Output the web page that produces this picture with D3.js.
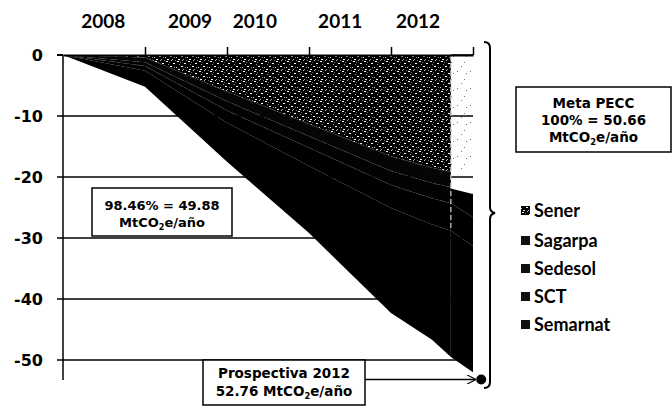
<!DOCTYPE html>
<html><head><meta charset="utf-8">
<script src="https://cdn.jsdelivr.net/npm/d3@7"></script>
<style>body{margin:0;background:#fff}</style>
</head><body><svg id="c" width="672" height="407"></svg>
<script>
// ---- data ----
const years    = [2008, 2009, 2010, 2011, 2012, 2012.5, 2012.73, 2013];
const sener    = [0, 0.4, 6.0, 11.3, 16.6, 18.5, 19.2, 19.2];
const sagarpa  = [0, 0.8, 1.6, 2.0, 2.4, 2.5, 2.5, 3.4];
const sedesol  = [0, 0.6, 1.5, 1.9, 2.3, 2.5, 2.6, 4.0];
const sct      = [0, 0.8, 2.0, 3.0, 3.8, 4.3, 4.5, 4.7];
const semarnat = [0, 2.6, 6.4, 11.0, 17.2, 18.9, 20.7, 20.7];
const seriesNames = ["Sener", "Sagarpa", "Sedesol", "SCT", "Semarnat"];
const yearLabels = ["2008", "2009", "2010", "2011", "2012"];
const yearLabelPos = [2008.49, 2009.55, 2010.34, 2011.38, 2012.33];
const yearTicks = [2009, 2010, 2011, 2012, 2013];
const yTicks = [0, -10, -20, -30, -40, -50];
const cutoffYear = 2012.73;
const prospectiva = {year: 2013.1, value: -53.2};

(function () {
const seriesValues = {Sener: sener, Sagarpa: sagarpa, Sedesol: sedesol, SCT: sct, Semarnat: semarnat};
const rows = years.map((yr, i) => {
  const r = {year: yr};
  seriesNames.forEach(k => r[k] = -seriesValues[k][i]);
  return r;
});

const svg = d3.select("#c");
const x = d3.scaleLinear().domain([2008, 2013]).range([63, 473]);
const y = d3.scaleLinear().domain([0, -50]).range([55, 360]);

// patterns
const defs = svg.append("defs");
const sp = defs.append("pattern").attr("id", "speck").attr("patternUnits", "userSpaceOnUse")
  .attr("width", 11).attr("height", 10);
sp.append("rect").attr("width", 11).attr("height", 10).attr("fill", "#000");
[[1,1,2,1,"#fff"],[6,0,1,1,"#bbb"],[8,3,2,1,"#fff"],[3,4,1,1,"#999"],[5,6,2,1,"#fff"],
 [0,7,1,1,"#ccc"],[9,7,1,1,"#888"],[2,9,2,1,"#eee"],[7,9,1,1,"#aaa"],[10,0,1,1,"#777"],
 [4,2,1,1,"#666"]].forEach(r =>
  sp.append("rect").attr("x", r[0]).attr("y", r[1]).attr("width", r[2]).attr("height", r[3]).attr("fill", r[4]));
const sp2 = defs.append("pattern").attr("id", "sparse").attr("patternUnits", "userSpaceOnUse")
  .attr("width", 13).attr("height", 17);
[[2,3],[9,11],[6,15],[11,5]].forEach(p =>
  sp2.append("rect").attr("x", p[0]).attr("y", p[1]).attr("width", 1).attr("height", 1).attr("fill", "#777"));
defs.append("clipPath").attr("id", "mainClip").append("rect")
  .attr("x", x(2008)).attr("y", 0).attr("width", x(cutoffYear) - x(2008)).attr("height", 407);
defs.append("clipPath").attr("id", "projClip").append("rect")
  .attr("x", x(cutoffYear)).attr("y", 0).attr("width", x(2013) - x(cutoffYear) + 1).attr("height", 407);
defs.append("marker").attr("id", "arr").attr("viewBox", "0 0 10 10").attr("refX", 9).attr("refY", 5)
  .attr("markerWidth", 9).attr("markerHeight", 9).attr("orient", "auto").attr("markerUnits", "userSpaceOnUse")
  .append("path").attr("d", "M0,0L10,5L0,10").attr("fill", "none").attr("stroke", "#000").attr("stroke-width", 1.3);

// gridlines
svg.append("g").selectAll("line").data(yTicks.slice(1)).join("line")
  .attr("x1", 57).attr("x2", x(2013)).attr("y1", d => y(d)).attr("y2", d => y(d))
  .attr("stroke", "#000").attr("stroke-width", 1.3);

// stacked areas
const stack = d3.stack().keys(seriesNames).offset(d3.stackOffsetDiverging)(rows);
const area = d3.area().x(d => x(d.data.year)).y0(d => y(d[0])).y1(d => y(d[1]));
const line = d3.line().x(d => x(d.data.year)).y(d => y(d[1]));

const mainFill = {Sener: "url(#speck)", Sagarpa: "#050505", Sedesol: "#020202", SCT: "#000", Semarnat: "#000"};
const projFill = {Sener: "url(#sparse)", Sagarpa: "none", Sedesol: "#000", SCT: "#000", Semarnat: "#000"};

const gMain = svg.append("g").attr("clip-path", "url(#mainClip)");
gMain.selectAll("path.a").data(stack).join("path").attr("class", "a")
  .attr("d", area).attr("fill", d => mainFill[d.key]);
gMain.selectAll("path.b").data(stack.slice(1, 4)).join("path").attr("class", "b")
  .attr("d", line).attr("fill", "none").attr("stroke", "#3c3c3c").attr("stroke-width", 0.8)
  .attr("stroke-dasharray", "5,7");
gMain.append("path").datum(stack[0]).attr("d", line).attr("fill", "none")
  .attr("stroke", "#fff").attr("stroke-width", 2);

const gProj = svg.append("g").attr("clip-path", "url(#projClip)");
gProj.selectAll("path.a").data(stack).join("path").attr("class", "a")
  .attr("d", area).attr("fill", d => projFill[d.key]);
gProj.append("path").datum(stack[2]).attr("d", line).attr("fill", "none")
  .attr("stroke", "#fff").attr("stroke-width", 2.5);
gProj.append("path").datum(stack[0]).attr("d", line).attr("fill", "none")
  .attr("stroke", "#000").attr("stroke-width", 1.3);

// cutoff dashed line
const cutIdx = years.indexOf(cutoffYear);
const senerBottom = stack[0][cutIdx][1];
const totalBottom = stack[4][cutIdx][1];
svg.append("line").attr("x1", x(cutoffYear)).attr("x2", x(cutoffYear))
  .attr("y1", y(0)).attr("y2", y(senerBottom))
  .attr("stroke", "#000").attr("stroke-width", 2.5).attr("stroke-dasharray", "6,3");
svg.append("line").attr("x1", x(cutoffYear)).attr("x2", x(cutoffYear))
  .attr("y1", y(senerBottom)).attr("y2", y(totalBottom))
  .attr("stroke", "#ccc").attr("stroke-width", 1.2).attr("stroke-dasharray", "5,3");

// top axis
const topAxis = svg.append("g").attr("transform", `translate(0,${y(0)})`)
  .call(d3.axisTop(x).tickValues(yearTicks).tickSize(8).tickSizeOuter(0).tickFormat(""));
topAxis.select(".domain").attr("stroke-width", 2);
topAxis.selectAll(".tick line").attr("stroke-width", 1.5);
svg.append("line").attr("x1", 57).attr("x2", x(2008)).attr("y1", y(0)).attr("y2", y(0))
  .attr("stroke", "#000").attr("stroke-width", 2);
svg.append("g").selectAll("text").data(yearLabels).join("text")
  .attr("x", (d, i) => x(yearLabelPos[i])).attr("y", 28).attr("text-anchor", "middle")
  .attr("font-family", "Lato, sans-serif").attr("font-weight", 700).attr("font-size", 19)
  .text(d => d);

// left axis
const leftAxis = svg.append("g").attr("transform", `translate(${x(2008)},0)`)
  .call(d3.axisLeft(y).tickValues(yTicks).tickSize(0).tickPadding(20).tickFormat(d => String(d)));
leftAxis.select(".domain").remove();
leftAxis.selectAll("text").attr("font-family", "DejaVu Sans, sans-serif").attr("font-weight", 700)
  .attr("font-size", 16).attr("fill", "#000").attr("dy", "0.36em");
svg.append("line").attr("x1", x(2008)).attr("x2", x(2008)).attr("y1", y(0)).attr("y2", 380)
  .attr("stroke", "#000").attr("stroke-width", 1.5);

// annotation boxes
function box(x0, y0, w, h, lines, fs) {
  const g = svg.append("g");
  g.append("rect").attr("x", x0).attr("y", y0).attr("width", w).attr("height", h)
    .attr("fill", "#fff").attr("stroke", "#000").attr("stroke-width", 1.5);
  lines.forEach((ln) => {
    const t = g.append("text").attr("x", x0 + w / 2).attr("y", ln.y).attr("text-anchor", "middle")
      .attr("font-family", "DejaVu Sans, sans-serif").attr("font-weight", 700).attr("font-size", fs);
    ln.parts.forEach(p => {
      if (p.sub) {
        t.append("tspan").attr("font-size", fs * 0.62).attr("dy", 3).text(p.sub);
      } else if (p.after) {
        t.append("tspan").attr("dy", -3).text(p.t);
      } else t.append("tspan").text(p.t);
    });
  });
}
const unit = [{t: "MtCO"}, {sub: "2"}, {t: "e/año", after: true}];
box(516, 87, 155, 65, [
  {y: 108, parts: [{t: "Meta PECC"}]},
  {y: 125, parts: [{t: "100% = 50.66"}]},
  {y: 142, parts: unit}], 13.5);
box(92, 188, 140, 48, [
  {y: 210, parts: [{t: "98.46% = 49.88"}]},
  {y: 227, parts: unit}], 13);
box(203, 360, 162, 45, [
  {y: 378, parts: [{t: "Prospectiva 2012"}]},
  {y: 396, parts: [{t: "52.76 "}].concat(unit)}], 13.5);

// arrow and dot
svg.append("line").attr("x1", 365).attr("x2", x(prospectiva.year) - 6)
  .attr("y1", y(prospectiva.value)).attr("y2", y(prospectiva.value))
  .attr("stroke", "#000").attr("stroke-width", 1.3).attr("marker-end", "url(#arr)");
svg.append("circle").attr("cx", x(prospectiva.year)).attr("cy", y(prospectiva.value)).attr("r", 5).attr("fill", "#000");

// brace
svg.append("path")
  .attr("d", "M484,42 Q490,42 490,48 L490,207 Q490,212 495,213 Q490,214 490,219 L490,382 Q490,388 484,388")
  .attr("fill", "none").attr("stroke", "#000").attr("stroke-width", 2);

// legend
const legY = [211, 241, 269, 297, 325];
const leg = svg.append("g").selectAll("g").data(seriesNames).join("g")
  .attr("transform", (d, i) => `translate(521,${legY[i]})`);
leg.append("rect").attr("x", 0).attr("y", -5).attr("width", 9).attr("height", 9)
  .attr("fill", (d, i) => i === 0 ? "url(#speck)" : "#111");
leg.append("text").attr("x", 13).attr("y", 0).attr("dy", "0.36em")
  .attr("font-family", "Lato, sans-serif").attr("font-weight", 700).attr("font-size", 18)
  .text(d => d);
})();
</script></body></html>
